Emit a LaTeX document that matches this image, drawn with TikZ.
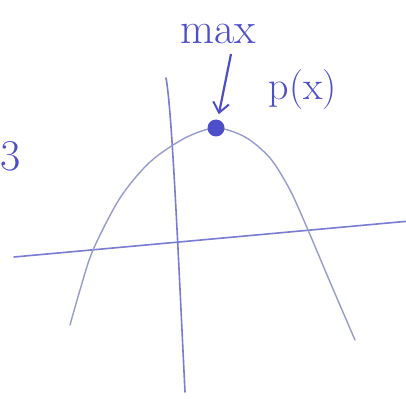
\documentclass[tikz,border=0pt]{standalone}
\usepackage{xcolor}
\usepackage{tikz}
\usetikzlibrary{arrows.meta,positioning}
\definecolor{penblue}{RGB}{78,78,200}
\definecolor{axisblue}{RGB}{120,125,210}
\definecolor{curvegray}{RGB}{150,155,205}
\tikzset{
  axisline/.style={
    draw=axisblue,
    line width=1.6pt,
    line cap=round
  },
  curveline/.style={
    draw=curvegray,
    line width=1.4pt,
    line cap=round
  },
  penlabel/.style={
    text=penblue,
    inner sep=1pt,
    font=\fontsize{44}{44}\selectfont
  },
  penarrow/.style={
    -{Straight Barb[length=10pt,width=16pt,line width=2pt]},
    line width=2.2pt,
    draw=penblue,
    shorten >=14pt
  }
}

\begin{document}
\begin{tikzpicture}[x=1pt,y=-1pt]
\useasboundingbox (0,0) rectangle (406,398);
% axes
\coordinate (xleft) at (14,257);
\coordinate (xright) at (410,221);
\coordinate (ytop) at (166,78);
\coordinate (ybot) at (185,392);
\draw[axisline] (xleft) -- (xright);
\draw[axisline] (ytop) .. controls (172,110) and (178,250) .. (ybot);
% the curve and its top
\coordinate (maxpt) at (216,128);
\draw[curveline] plot[smooth] coordinates {(70,325) (80,290) (93,250) (120,198) (150,162) (185,138) (216,128) (245,137) (270,158) (290,190) (308,230) (330,282) (355,340)};
\fill[penblue] (maxpt) circle (8.5pt);
% labels
\node[penlabel] (maxlabel) at (218,34) {max};
\node[penlabel, font=\fontsize{40}{40}\selectfont] (plabel) at (303,90) {p(x)};
\node[penlabel] (cutlabel) at (11,156) {3};
\coordinate (arrowtail) at (231,54);
\draw[penarrow] (arrowtail) -- (maxpt);
\end{tikzpicture}
\end{document}
